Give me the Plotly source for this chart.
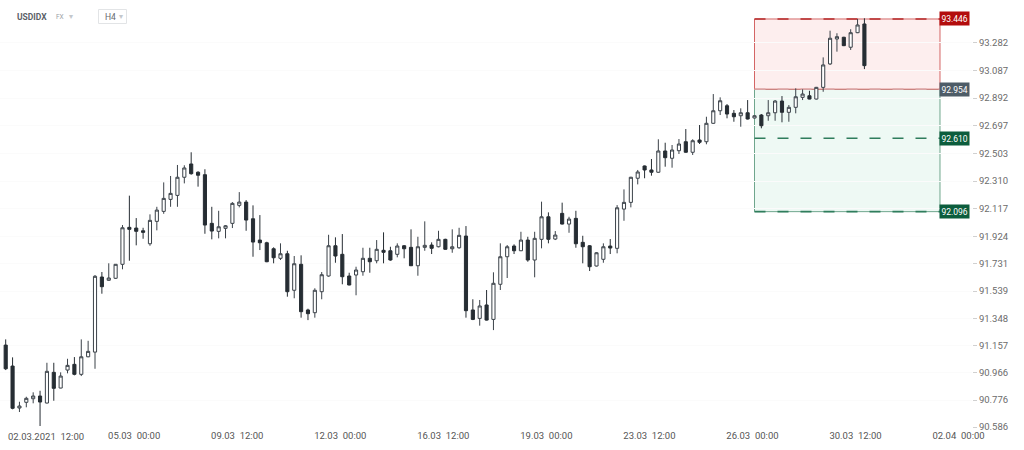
import plotly.graph_objects as go

# ---------------- data ----------------
bar_index = list(range(126))

open_ = [91.161, 91.014, 90.720, 90.760, 90.785, 90.804, 90.755, 90.970, 90.860, 90.986,
         91.026, 90.956, 91.079, 91.112, 91.638, 91.615, 91.629, 91.727, 91.986, 91.981,
         91.962, 91.871, 92.028, 92.098, 92.182, 92.210, 92.337, 92.430, 92.372, 92.355,
         92.014, 91.958, 91.979, 92.014, 92.140, 92.163, 92.046, 91.897, 91.878, 91.836,
         91.769, 91.801, 91.545, 91.727, 91.407, 91.388, 91.535, 91.645, 91.857, 91.797,
         91.645, 91.652, 91.675, 91.769, 91.752, 91.825, 91.822, 91.797, 91.857, 91.846,
         91.717, 91.846, 91.862, 91.850, 91.902, 91.836, 91.843, 91.925, 91.407, 91.348,
         91.442, 91.341, 91.587, 91.780, 91.855, 91.822, 91.897, 91.757, 91.902, 92.060,
         91.904, 92.084, 92.009, 92.049, 91.881, 91.857, 91.715, 91.762, 91.855, 91.839,
         92.114, 92.161, 92.330, 92.416, 92.388, 92.372, 92.521, 92.470, 92.523, 92.586,
         92.512, 92.598, 92.586, 92.715, 92.803, 92.838, 92.785, 92.768, 92.789, 92.752,
         92.773, 92.768, 92.789, 92.871, 92.792, 92.827, 92.897, 92.908, 92.885, 92.967,
         93.131, 93.306, 93.318, 93.248, 93.350, 93.411]

high = [91.201, 91.075, 90.764, 90.799, 90.830, 90.841, 91.037, 91.037, 90.970, 91.065,
        91.077, 91.201, 91.191, 91.652, 91.673, 91.734, 91.729, 92.002, 92.208, 92.051,
        91.983, 92.077, 92.130, 92.301, 92.346, 92.423, 92.421, 92.512, 92.379, 92.393,
        92.130, 92.102, 92.002, 92.163, 92.233, 92.177, 92.140, 92.072, 91.885, 91.846,
        91.874, 91.822, 91.785, 91.790, 91.416, 91.559, 91.673, 91.934, 91.916, 91.939,
        91.668, 91.710, 91.843, 91.843, 91.897, 91.951, 91.850, 91.874, 91.862, 91.972,
        91.920, 92.028, 91.881, 91.962, 91.906, 91.972, 91.983, 91.995, 91.482, 91.477,
        91.547, 91.671, 91.874, 91.862, 91.867, 91.955, 91.920, 91.955, 92.166, 92.091,
        91.960, 92.159, 92.060, 92.102, 91.927, 91.862, 91.812, 91.874, 91.904, 92.142,
        92.252, 92.340, 92.388, 92.419, 92.465, 92.603, 92.579, 92.563, 92.605, 92.675,
        92.603, 92.703, 92.761, 92.920, 92.897, 92.850, 92.808, 92.820, 92.878, 92.770,
        92.780, 92.878, 92.878, 92.906, 92.843, 92.960, 92.953, 92.943, 92.970, 93.177,
        93.364, 93.346, 93.321, 93.374, 93.446, 93.451]

low = [90.986, 90.711, 90.692, 90.725, 90.753, 90.594, 90.752, 90.771, 90.858, 90.963,
       90.949, 90.944, 91.076, 90.995, 91.521, 91.612, 91.624, 91.692, 91.752, 91.860,
       91.906, 91.857, 91.965, 92.081, 92.130, 92.130, 92.294, 92.355, 92.271, 91.941,
       91.902, 91.909, 91.909, 91.981, 92.126, 91.962, 91.780, 91.827, 91.742, 91.734,
       91.757, 91.500, 91.489, 91.353, 91.336, 91.353, 91.482, 91.640, 91.738, 91.587,
       91.580, 91.510, 91.647, 91.668, 91.734, 91.734, 91.752, 91.776, 91.769, 91.715,
       91.647, 91.822, 91.799, 91.846, 91.829, 91.808, 91.836, 91.353, 91.336, 91.297,
       91.333, 91.266, 91.547, 91.631, 91.799, 91.820, 91.745, 91.636, 91.839, 91.874,
       91.897, 92.006, 91.948, 91.843, 91.734, 91.680, 91.712, 91.738, 91.799, 91.804,
       92.032, 92.126, 92.287, 92.330, 92.348, 92.369, 92.411, 92.404, 92.500, 92.509,
       92.493, 92.570, 92.568, 92.712, 92.773, 92.750, 92.726, 92.691, 92.742, 92.750,
       92.680, 92.733, 92.733, 92.722, 92.726, 92.785, 92.878, 92.883, 92.882, 92.936,
       93.124, 93.217, 93.256, 93.229, 93.347, 93.095]

close = [90.995, 90.718, 90.734, 90.788, 90.804, 90.762, 90.977, 90.858, 90.944, 91.019,
         90.956, 91.079, 91.117, 91.643, 91.570, 91.631, 91.727, 91.983, 91.972, 91.958,
         91.951, 92.035, 92.107, 92.189, 92.224, 92.337, 92.402, 92.362, 92.351, 92.002,
         91.960, 91.990, 91.997, 92.154, 92.163, 92.037, 91.883, 91.878, 91.745, 91.773,
         91.801, 91.535, 91.731, 91.395, 91.381, 91.545, 91.654, 91.857, 91.785, 91.640,
         91.582, 91.687, 91.769, 91.745, 91.832, 91.811, 91.757, 91.855, 91.836, 91.717,
         91.850, 91.860, 91.839, 91.902, 91.832, 91.850, 91.930, 91.402, 91.341, 91.435,
         91.336, 91.594, 91.780, 91.850, 91.822, 91.897, 91.757, 91.909, 92.060, 91.902,
         91.932, 92.009, 92.044, 91.871, 91.850, 91.710, 91.808, 91.850, 91.841, 92.123,
         92.161, 92.337, 92.374, 92.388, 92.372, 92.521, 92.474, 92.528, 92.570, 92.512,
         92.593, 92.582, 92.715, 92.803, 92.873, 92.780, 92.761, 92.789, 92.745, 92.768,
         92.698, 92.789, 92.871, 92.792, 92.827, 92.901, 92.920, 92.885, 92.967, 93.124,
         93.311, 93.322, 93.259, 93.350, 93.404, 93.119]

time_labels = ["02.03.2021  12:00", "05.03  00:00", "09.03  12:00", "12.03  00:00",
               "16.03  12:00", "19.03  00:00", "23.03  12:00", "26.03  00:00",
               "30.03  12:00", "02.04  00:00"]
first_label_bar = 3.7
bars_per_label = 15

price_ticks = [93.282, 93.087, 92.892, 92.697, 92.503, 92.310, 92.117, 91.924,
               91.731, 91.539, 91.348, 91.157, 90.966, 90.776, 90.586]

zone_start_bar = 109
zone_end_bar = 136
level_top = 93.446
level_entry = 92.954
level_mid = 92.610
level_bottom = 92.096

symbol = "USDIDX"
market = "FX"
interval = "H4"

# ---------------- layout helpers ----------------
W, H = 1024, 450
ML, MR, MT, MB = 0, 52, 5, 22
PW, PH = W - ML - MR, H - MT - MB


def px_x(p):
    return (p - ML) / PW


def px_y(p):
    return 1 - (p - MT) / PH


def nb(s):
    return s.replace("  ", "\u00a0 ")


tick_pos = [first_label_bar + bars_per_label * k for k in range(len(time_labels))]
tick_txt = [""] + [nb(t) for t in time_labels[1:]]

fig = go.Figure()
fig.add_trace(go.Candlestick(
    x=bar_index, open=open_, high=high, low=low, close=close,
    increasing=dict(fillcolor="#ffffff", line=dict(color="#3b4249", width=1)),
    decreasing=dict(fillcolor="#262d33", line=dict(color="#262d33", width=1)),
    whiskerwidth=0, hoverinfo="skip", showlegend=False,
))

shapes = []
# zones
shapes.append(dict(type="rect", xref="x", yref="y", x0=zone_start_bar, x1=zone_end_bar,
                   y0=level_bottom, y1=level_entry, fillcolor="#eef9f4",
                   line=dict(color="#6fa68d", width=1), layer="below"))
shapes.append(dict(type="rect", xref="x", yref="y", x0=zone_start_bar, x1=zone_end_bar,
                   y0=level_entry, y1=level_top, fillcolor="#fdeeee",
                   line=dict(color="#d46565", width=1), layer="below"))
# dashed level lines
for lvl, col, w in [(level_top, "#b52a2a", 1.6), (level_entry, "#d8a4a4", 1.4),
                    (level_mid, "#2f7d5c", 1.6), (level_bottom, "#2f7d5c", 1.6)]:
    shapes.append(dict(type="line", xref="x", yref="y", x0=zone_start_bar, x1=zone_end_bar,
                       y0=lvl, y1=lvl, line=dict(color=col, width=w, dash="11px,12px"),
                       layer="below"))
# H4 box
shapes.append(dict(type="rect", xref="paper", yref="paper", x0=px_x(98.5), x1=px_x(126.5),
                   y0=px_y(23.5), y1=px_y(9.5), line=dict(color="#e2e4e6", width=1),
                   fillcolor="#ffffff"))

annotations = []
for lvl, bg in [(level_top, "#b30d0d"), (level_entry, "#4e5c67"),
                (level_mid, "#0c5d3d"), (level_bottom, "#0c5d3d")]:
    annotations.append(dict(xref="x", yref="y", x=zone_end_bar, y=lvl, text=f"{lvl:.3f}",
                            showarrow=False, xanchor="left", yanchor="middle", xshift=-1,
                            bgcolor=bg, borderpad=1.5,
                            font=dict(family="Roboto", size=8.5, color="#ffffff")))
annotations.append(dict(xref="paper", yref="paper", x=px_x(6), y=px_y(436.5),
                        text=nb(time_labels[0]), showarrow=False, xanchor="left",
                        yanchor="middle", font=dict(family="Roboto", size=9.5, color="#555555")))
annotations.append(dict(xref="paper", yref="paper", x=px_x(15), y=px_y(17), text=f"<b>{symbol}</b>",
                        showarrow=False, xanchor="left", yanchor="middle",
                        font=dict(family="Roboto", size=8.5, color="#5b6167")))
annotations.append(dict(xref="paper", yref="paper", x=px_x(54), y=px_y(17), text=market,
                        showarrow=False, xanchor="left", yanchor="middle",
                        font=dict(family="Roboto", size=6.5, color="#9aa0a6")))
annotations.append(dict(xref="paper", yref="paper", x=px_x(67), y=px_y(16.5), text="\u25be",
                        showarrow=False, xanchor="left", yanchor="middle",
                        font=dict(family="DejaVu Sans", size=8, color="#c4c8cc")))
annotations.append(dict(xref="paper", yref="paper", x=px_x(102.5), y=px_y(17), text=interval,
                        showarrow=False, xanchor="left", yanchor="middle",
                        font=dict(family="Roboto", size=8.5, color="#666a6e")))
annotations.append(dict(xref="paper", yref="paper", x=px_x(116.5), y=px_y(16.5), text="\u25be",
                        showarrow=False, xanchor="left", yanchor="middle",
                        font=dict(family="DejaVu Sans", size=8, color="#c4c8cc")))

fig.update_layout(
    width=W, height=H,
    margin=dict(l=ML, r=MR, t=MT, b=MB, pad=0),
    paper_bgcolor="#ffffff", plot_bgcolor="#ffffff",
    font=dict(family="Roboto", size=9.5, color="#555555"),
    boxgap=0.35,
    shapes=shapes, annotations=annotations,
    xaxis=dict(range=[-0.83, 140.66], tickmode="array", tickvals=tick_pos, ticktext=tick_txt,
               showgrid=False, zeroline=False, showline=False, ticks="",
               tickfont=dict(family="Roboto", size=9.5, color="#555555"),
               rangeslider=dict(visible=False), fixedrange=True),
    yaxis=dict(side="right", range=[90.580, 93.544], tickmode="array", tickvals=price_ticks,
               ticktext=[f"{v:.3f}" for v in price_ticks], ticks="outside", ticklen=4,
               tickcolor="#d0d0d0", showgrid=True, gridcolor="#fbfbfb", zeroline=False,
               showline=False, tickfont=dict(family="Roboto", size=9.5, color="#6b6b6b"),
               fixedrange=True),
)

fig.write_html("out.html", config={"displayModeBar": False},
               post_script="document.body.style.margin='0';document.body.style.overflow='hidden';")
